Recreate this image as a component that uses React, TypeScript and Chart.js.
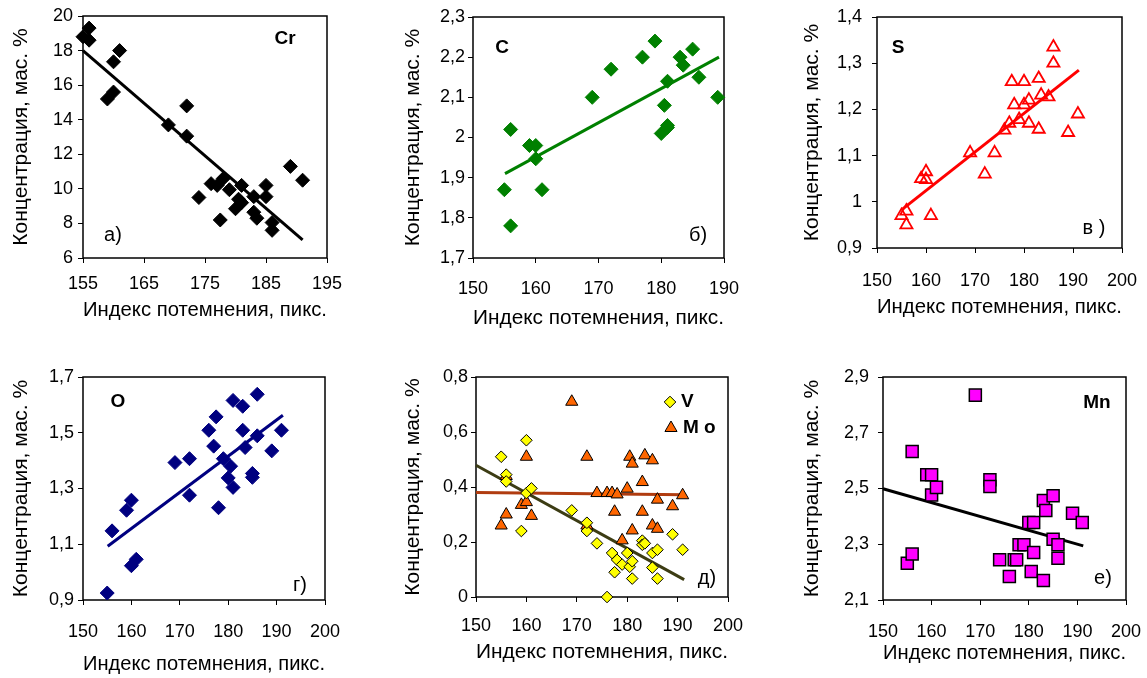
import React, { useEffect, useRef } from 'react';
import { Chart, registerables } from 'chart.js';

Chart.register(...registerables);

const FONT = '"Liberation Sans", Arial, Helvetica, sans-serif';

const X_TITLE = 'Индекс потемнения, пикс.';
const Y_TITLE = 'Концентрация, мас. %';

// ---- Cr ----
const crX = [155, 156, 156, 160, 161, 159, 160, 169, 172, 172, 174, 176, 177, 178, 177.5, 179, 180, 180.5, 181, 181, 183, 183, 183.5, 185, 185, 186, 186, 189, 191];
const crY = [18.8, 19.3, 18.6, 17.35, 18.0, 15.2, 15.6, 13.7, 14.8, 13.05, 9.5, 10.3, 10.2, 10.6, 8.2, 9.95, 8.85, 9.4, 10.2, 9.2, 9.55, 8.65, 8.3, 10.2, 9.55, 8.05, 7.6, 11.3, 10.5];
const crTrendX = [155, 191];
const crTrendY = [18.0, 7.05];
const crXTicks = [155, 165, 175, 185, 195];
const crYTicks = [6, 8, 10, 12, 14, 16, 18, 20];

// ---- C ----
const cX = [155, 156, 156, 159, 160, 160, 161, 169, 172, 177, 179, 180, 180.5, 181, 181, 181, 183, 183.5, 185, 186, 189];
const cY = [1.87, 1.78, 2.02, 1.98, 1.98, 1.947, 1.87, 2.10, 2.17, 2.20, 2.24, 2.01, 2.08, 2.025, 2.03, 2.14, 2.20, 2.18, 2.22, 2.15, 2.10];
const cTrendX = [155.1, 189.2];
const cTrendY = [1.91, 2.20];
const cXTicks = [150, 160, 170, 180, 190];
const cYTicks = [1.7, 1.8, 1.9, 2.0, 2.1, 2.2, 2.3];

// ---- S ----
const sX = [155, 156, 156, 159, 160, 160, 161, 169, 172, 174, 176, 177, 177.5, 178, 179, 180, 180, 181, 181, 183, 183, 183.5, 185, 186, 186, 189, 191];
const sY = [0.97, 0.98, 0.95, 1.05, 1.065, 1.048, 0.97, 1.106, 1.06, 1.106, 1.155, 1.17, 1.26, 1.21, 1.178, 1.26, 1.21, 1.22, 1.17, 1.267, 1.157, 1.231, 1.227, 1.335, 1.30, 1.15, 1.19];
const sTrendX = [155.2, 191.2];
const sTrendY = [0.984, 1.285];
const sXTicks = [150, 160, 170, 180, 190, 200];
const sYTicks = [0.9, 1.0, 1.1, 1.2, 1.3, 1.4];

// ---- O ----
const oX = [155, 156, 159, 160, 160, 161, 169, 172, 172, 176, 177, 177.5, 178, 179, 180, 180.5, 181, 181, 183, 183, 183.5, 185, 185, 186, 186, 189, 191];
const oY = [0.925, 1.148, 1.222, 1.258, 1.023, 1.046, 1.393, 1.407, 1.276, 1.509, 1.452, 1.557, 1.231, 1.407, 1.338, 1.38, 1.616, 1.304, 1.595, 1.509, 1.447, 1.354, 1.34, 1.638, 1.489, 1.435, 1.509];
const oTrendX = [155.1, 191.3];
const oTrendY = [1.093, 1.563];
const oXTicks = [150, 160, 170, 180, 190, 200];
const oYTicks = [0.9, 1.1, 1.3, 1.5, 1.7];

// ---- V / Mo ----
const vX = [155, 156, 156, 159, 160, 160, 161, 169, 172, 172, 174, 176, 177, 177.5, 178, 179, 180, 180.5, 181, 181, 183, 183, 183.5, 185, 185, 186, 186, 189, 191];
const vY = [0.51, 0.445, 0.42, 0.24, 0.57, 0.378, 0.395, 0.315, 0.24, 0.27, 0.195, 0.0, 0.16, 0.09, 0.135, 0.118, 0.16, 0.11, 0.13, 0.067, 0.205, 0.19, 0.195, 0.16, 0.107, 0.172, 0.067, 0.228, 0.172];
const moX = [155, 156, 156, 159, 160, 160, 161, 169, 172, 172, 174, 176, 177, 177.5, 178, 179, 180, 180.5, 181, 181, 183, 183, 183.5, 185, 185, 186, 186, 189, 191];
const moY = [0.26, 0.30, 0.44, 0.335, 0.51, 0.345, 0.295, 0.71, 0.51, 0.26, 0.378, 0.378, 0.378, 0.31, 0.373, 0.206, 0.394, 0.51, 0.485, 0.242, 0.418, 0.31, 0.515, 0.497, 0.26, 0.354, 0.248, 0.33, 0.37];
const vTrendX = [150, 191.3];
const vTrendY = [0.479, 0.063];
const moTrendX = [150, 191.5];
const moTrendY = [0.38, 0.372];
const vmXTicks = [150, 160, 170, 180, 190, 200];
const vmYTicks = [0, 0.2, 0.4, 0.6, 0.8];

// ---- Mn ----
const mnX = [155, 156, 156, 159, 160, 160, 161, 169, 172, 172, 174, 176, 177, 177.5, 178, 179, 180, 180.5, 181, 181, 183, 183, 183.5, 185, 185, 186, 186, 189, 191];
const mnY = [2.232, 2.265, 2.633, 2.549, 2.549, 2.477, 2.504, 2.835, 2.531, 2.507, 2.244, 2.184, 2.244, 2.244, 2.298, 2.298, 2.378, 2.202, 2.378, 2.27, 2.457, 2.17, 2.421, 2.474, 2.318, 2.298, 2.25, 2.411, 2.378];
const mnTrendX = [150, 191.2];
const mnTrendY = [2.499, 2.294];
const mnXTicks = [150, 160, 170, 180, 190, 200];
const mnYTicks = [2.1, 2.3, 2.5, 2.7, 2.9];

const TICK_SIZE = 18;
const TITLE_SIZE = 21;
const TITLE_LH = TITLE_SIZE * 1.2;

const xy = (xs: number[], ys: number[]) => xs.map((x, i) => ({ x, y: ys[i] }));
const fmt = (v: number) => String(Math.round(Number(v) * 100) / 100).replace('.', ',');

type Txt = { text: string; x: number; y: number; bold?: boolean; size?: number; align?: CanvasTextAlign };

type PanelDef = {
  L: number; R: number; T: number; B: number; yTitleX: number; xTitleY: number; padRight: number;
  xMin: number; xMax: number; xTicks: number[];
  yMin: number; yMax: number; yTicks: number[];
  xTickPad: number; yTickPad: number;
  datasets: any[];
  texts: Txt[];
  legend?: boolean;
};

const pts = (xs: number[], ys: number[], style: string, r: number, bg: string, bc: string, bw: number) => ({
  type: 'scatter', data: xy(xs, ys), pointStyle: style, pointRadius: r, pointHoverRadius: r,
  backgroundColor: bg, borderColor: bc, borderWidth: bw, pointBorderWidth: bw, showLine: false, clip: false, order: 0,
});
const trend = (xs: number[], ys: number[], color: string) => ({
  type: 'line', data: xy(xs, ys), borderColor: color, borderWidth: 3, pointRadius: 0, showLine: true,
  fill: false, clip: false, order: 1, tension: 0,
});

const panels: PanelDef[] = [
  {
    L: 83, R: 327, T: 16, B: 258, yTitleX: 22, xTitleY: 310, padRight: 25,
    xMin: 155, xMax: 195, xTicks: crXTicks, yMin: 6, yMax: 20, yTicks: crYTicks, xTickPad: 10, yTickPad: 5,
    datasets: [pts(crX, crY, 'rectRot', 7, '#000', '#000', 1), trend(crTrendX, crTrendY, '#000')],
    texts: [{ text: 'Cr', x: 285, y: 39, bold: true, size: 19 }, { text: 'а)', x: 113, y: 235, size: 20 }],
  },
  {
    L: 473, R: 724, T: 17, B: 258, yTitleX: 414, xTitleY: 318, padRight: 25,
    xMin: 150, xMax: 190, xTicks: cXTicks, yMin: 1.7, yMax: 2.3, yTicks: cYTicks, xTickPad: 15, yTickPad: 3,
    datasets: [pts(cX, cY, 'rectRot', 7, '#008000', '#008000', 1), trend(cTrendX, cTrendY, '#008000')],
    texts: [{ text: 'C', x: 502, y: 48, bold: true, size: 19 }, { text: 'б)', x: 698, y: 235, size: 20 }],
  },
  {
    L: 877, R: 1122, T: 17, B: 248, yTitleX: 813, xTitleY: 307, padRight: 25,
    xMin: 150, xMax: 200, xTicks: sXTicks, yMin: 0.9, yMax: 1.4, yTicks: sYTicks, xTickPad: 17, yTickPad: 10,
    datasets: [pts(sX, sY, 'triangle', 7, 'rgba(0,0,0,0)', '#ff0000', 1.8), trend(sTrendX, sTrendY, '#ff0000')],
    texts: [{ text: 'S', x: 898, y: 48, bold: true, size: 19 }, { text: 'в )', x: 1094, y: 228, size: 20 }],
  },
  {
    L: 83, R: 325, T: 377, B: 600, yTitleX: 22, xTitleY: 664, padRight: 25,
    xMin: 150, xMax: 200, xTicks: oXTicks, yMin: 0.9, yMax: 1.7, yTicks: oYTicks, xTickPad: 16, yTickPad: 4,
    datasets: [pts(oX, oY, 'rectRot', 7, '#000080', '#000080', 1), trend(oTrendX, oTrendY, '#000080')],
    texts: [{ text: 'O', x: 118, y: 402, bold: true, size: 19 }, { text: 'г)', x: 300, y: 585, size: 20 }],
  },
  {
    L: 476, R: 728, T: 377, B: 597, yTitleX: 414, xTitleY: 652, padRight: 25,
    xMin: 150, xMax: 200, xTicks: vmXTicks, yMin: 0, yMax: 0.8, yTicks: vmYTicks, xTickPad: 13, yTickPad: 3,
    datasets: [
      pts(vX, vY, 'rectRot', 5.8, '#ffff00', '#000', 1),
      pts(moX, moY, 'triangle', 7, '#ff6600', '#000', 1),
      trend(vTrendX, vTrendY, '#3c3c14'),
      trend(moTrendX, moTrendY, '#b03c10'),
    ],
    texts: [{ text: 'д)', x: 707, y: 578, size: 20 }],
    legend: true,
  },
  {
    L: 883, R: 1126, T: 377, B: 600, yTitleX: 813, xTitleY: 653, padRight: 21,
    xMin: 150, xMax: 200, xTicks: mnXTicks, yMin: 2.1, yMax: 2.9, yTicks: mnYTicks, xTickPad: 16, yTickPad: 9,
    datasets: [pts(mnX, mnY, 'rect', 8.5, '#ff00ff', '#000', 1.5), trend(mnTrendX, mnTrendY, '#000')],
    texts: [{ text: 'Mn', x: 1097, y: 403, bold: true, size: 19 }, { text: 'е)', x: 1103, y: 578, size: 20 }],
  },
];

function PanelChart({ p }: { p: PanelDef }) {
  const ref = useRef<HTMLCanvasElement>(null);
  const padTop = 12;
  const left = Math.round(p.yTitleX - TITLE_LH / 2);
  const top = p.T - padTop;
  const bottom = Math.round(p.xTitleY + TITLE_LH / 2);
  const w = p.R + p.padRight - left;
  const h = bottom - top;
  const yAxisW = p.L - left;
  const xAxisH = bottom - p.B;
  useEffect(() => {
    const frame = {
      id: 'frame',
      beforeDatasetsDraw(chart: any) {
        const { ctx, chartArea: a } = chart;
        ctx.save();
        ctx.strokeStyle = '#000';
        ctx.lineWidth = 1.5;
        ctx.strokeRect(a.left, a.top, a.right - a.left, a.bottom - a.top);
        ctx.restore();
      },
    };
    const texts = {
      id: 'texts',
      afterDraw(chart: any) {
        const ctx = chart.ctx as CanvasRenderingContext2D;
        ctx.save();
        ctx.fillStyle = '#000';
        ctx.textBaseline = 'middle';
        for (const t of p.texts) {
          ctx.font = `${t.bold ? 'bold ' : ''}${t.size || 18}px ${FONT}`;
          ctx.textAlign = t.align || 'center';
          ctx.fillText(t.text, t.x - left, t.y - top);
        }
        if (p.legend) {
          const ox = -left, oy = -top;
          ctx.beginPath();
          const dx = 670 + ox, dy = 402 + oy, r = 5.8;
          ctx.moveTo(dx - r, dy); ctx.lineTo(dx, dy - r); ctx.lineTo(dx + r, dy); ctx.lineTo(dx, dy + r); ctx.closePath();
          ctx.fillStyle = '#ffff00'; ctx.fill(); ctx.strokeStyle = '#000'; ctx.lineWidth = 1; ctx.stroke();
          const tx = 671 + ox, ty = 428 + oy, tr = 7;
          ctx.beginPath();
          ctx.moveTo(tx, ty - tr);
          ctx.lineTo(tx + tr * Math.sin(2 * Math.PI / 3), ty - tr * Math.cos(2 * Math.PI / 3));
          ctx.lineTo(tx + tr * Math.sin(4 * Math.PI / 3), ty - tr * Math.cos(4 * Math.PI / 3));
          ctx.closePath();
          ctx.fillStyle = '#ff6600'; ctx.fill(); ctx.stroke();
          ctx.fillStyle = '#000';
          ctx.font = `bold 19px ${FONT}`;
          ctx.textAlign = 'left';
          ctx.fillText('V', 681 + ox, 402 + oy);
          ctx.fillText('M o', 683 + ox, 428 + oy);
        }
        ctx.restore();
      },
    };
    const tickFont = { family: FONT, size: TICK_SIZE };
    const titleFont = { family: FONT, size: TITLE_SIZE, lineHeight: 1.2 };
    const chart = new Chart(ref.current as HTMLCanvasElement, {
      type: 'scatter',
      data: { datasets: p.datasets as any },
      options: {
        animation: false,
        responsive: false,
        maintainAspectRatio: false,
        devicePixelRatio: 1,
        events: [],
        layout: { padding: { top: padTop, right: p.padRight, left: 0, bottom: 0 } },
        plugins: { legend: { display: false }, tooltip: { enabled: false } },
        scales: {
          x: {
            type: 'linear', min: p.xMin, max: p.xMax,
            afterBuildTicks: (s: any) => { s.ticks = p.xTicks.map((v) => ({ value: v })); },
            afterFit: (s: any) => { s.height = xAxisH; s.paddingLeft = 0; s.paddingRight = 0; },
            ticks: { callback: (v: any) => fmt(v), font: tickFont, color: '#000', padding: p.xTickPad, maxRotation: 0, autoSkip: false },
            grid: { drawOnChartArea: false, drawTicks: true, tickLength: 5, color: '#000', lineWidth: 1 },
            border: { display: false },
            title: { display: true, text: X_TITLE, font: titleFont, color: '#000', padding: 0 },
          },
          y: {
            type: 'linear', min: p.yMin, max: p.yMax,
            afterBuildTicks: (s: any) => { s.ticks = p.yTicks.map((v) => ({ value: v })); },
            afterFit: (s: any) => { s.width = yAxisW; s.paddingTop = 0; s.paddingBottom = 0; },
            ticks: { callback: (v: any) => fmt(v), font: tickFont, color: '#000', padding: p.yTickPad, autoSkip: false },
            grid: { drawOnChartArea: false, drawTicks: true, tickLength: 5, color: '#000', lineWidth: 1 },
            border: { display: false },
            title: { display: true, text: Y_TITLE, font: titleFont, color: '#000', padding: 0 },
          },
        },
      } as any,
      plugins: [frame, texts],
    });
    return () => chart.destroy();
  }, [p]);
  return (
    <canvas
      ref={ref}
      width={w}
      height={h}
      style={{ position: 'absolute', left, top, width: w, height: h }}
    />
  );
}

export default function App() {
  return (
    <div style={{ position: 'fixed', left: 0, top: 0, width: 1147, height: 678, background: '#fff', overflow: 'hidden' }}>
      {panels.map((p, i) => (
        <PanelChart key={i} p={p} />
      ))}
    </div>
  );
}
